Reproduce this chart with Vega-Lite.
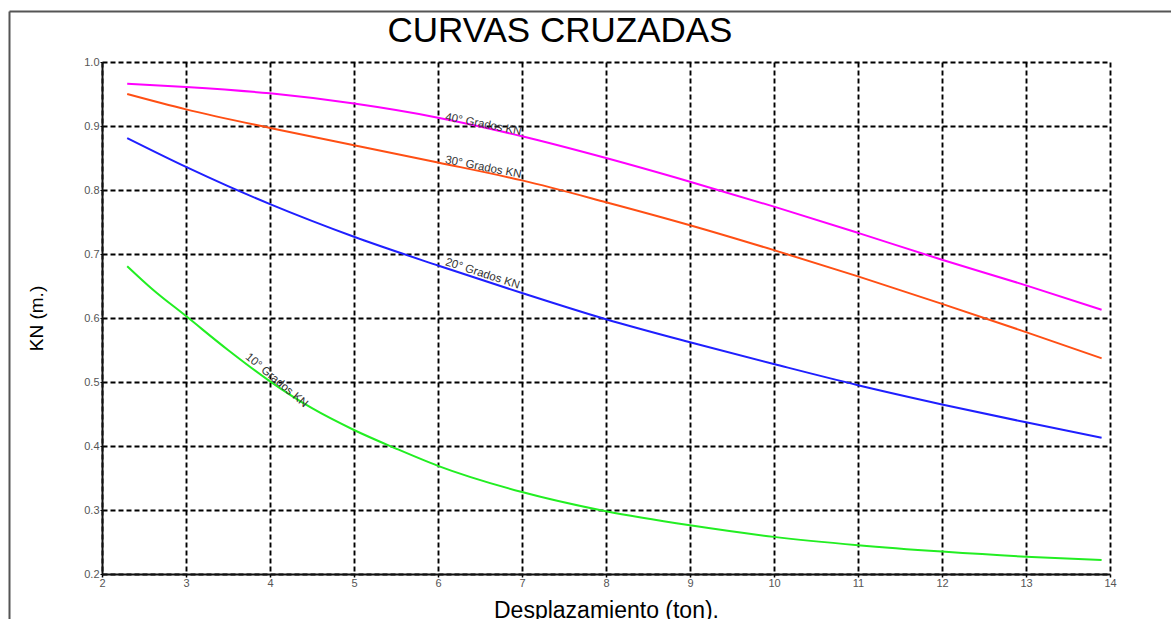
{
  "$schema": "https://vega.github.io/schema/vega-lite/v6.json",
  "width": 1008,
  "height": 512,
  "autosize": {"type": "none"},
  "padding": {"left": 102, "top": 62, "right": 61, "bottom": 45},
  "background": "white",
  "config": {
    "view": {"stroke": null},
    "font": "Liberation Sans"
  },
  "title": {
    "text": "CURVAS CRUZADAS",
    "font": "Liberation Sans",
    "fontSize": 35,
    "fontWeight": "normal",
    "color": "black",
    "baseline": "alphabetic",
    "anchor": "middle",
    "dx": -46,
    "offset": -66
  },
  "datasets": {
    "curvas": [
      {"curva": "40°", "x": 2.3, "kn": 0.966},
      {"curva": "40°", "x": 3, "kn": 0.961},
      {"curva": "40°", "x": 4, "kn": 0.951},
      {"curva": "40°", "x": 5, "kn": 0.935},
      {"curva": "40°", "x": 6, "kn": 0.913},
      {"curva": "40°", "x": 7, "kn": 0.884},
      {"curva": "40°", "x": 8, "kn": 0.85},
      {"curva": "40°", "x": 9, "kn": 0.813},
      {"curva": "40°", "x": 10, "kn": 0.774},
      {"curva": "40°", "x": 11, "kn": 0.733},
      {"curva": "40°", "x": 12, "kn": 0.691},
      {"curva": "40°", "x": 13, "kn": 0.651},
      {"curva": "40°", "x": 13.9, "kn": 0.613},
      {"curva": "30°", "x": 2.3, "kn": 0.95},
      {"curva": "30°", "x": 3, "kn": 0.926},
      {"curva": "30°", "x": 4, "kn": 0.897},
      {"curva": "30°", "x": 5, "kn": 0.87},
      {"curva": "30°", "x": 6, "kn": 0.843},
      {"curva": "30°", "x": 7, "kn": 0.815},
      {"curva": "30°", "x": 8, "kn": 0.781},
      {"curva": "30°", "x": 9, "kn": 0.745},
      {"curva": "30°", "x": 10, "kn": 0.706},
      {"curva": "30°", "x": 11, "kn": 0.665},
      {"curva": "30°", "x": 12, "kn": 0.622},
      {"curva": "30°", "x": 13, "kn": 0.578},
      {"curva": "30°", "x": 13.9, "kn": 0.537},
      {"curva": "20°", "x": 2.3, "kn": 0.881},
      {"curva": "20°", "x": 3, "kn": 0.836},
      {"curva": "20°", "x": 3.5, "kn": 0.806},
      {"curva": "20°", "x": 4, "kn": 0.778},
      {"curva": "20°", "x": 5, "kn": 0.727},
      {"curva": "20°", "x": 6, "kn": 0.682},
      {"curva": "20°", "x": 7, "kn": 0.639},
      {"curva": "20°", "x": 8, "kn": 0.598},
      {"curva": "20°", "x": 9, "kn": 0.562},
      {"curva": "20°", "x": 10, "kn": 0.528},
      {"curva": "20°", "x": 11, "kn": 0.495},
      {"curva": "20°", "x": 12, "kn": 0.465},
      {"curva": "20°", "x": 13, "kn": 0.437},
      {"curva": "20°", "x": 13.9, "kn": 0.413},
      {"curva": "10°", "x": 2.3, "kn": 0.681},
      {"curva": "10°", "x": 2.6, "kn": 0.645},
      {"curva": "10°", "x": 3, "kn": 0.603},
      {"curva": "10°", "x": 3.5, "kn": 0.55},
      {"curva": "10°", "x": 4, "kn": 0.501},
      {"curva": "10°", "x": 4.5, "kn": 0.459},
      {"curva": "10°", "x": 5, "kn": 0.425},
      {"curva": "10°", "x": 5.5, "kn": 0.396},
      {"curva": "10°", "x": 6, "kn": 0.369},
      {"curva": "10°", "x": 7, "kn": 0.328},
      {"curva": "10°", "x": 8, "kn": 0.298},
      {"curva": "10°", "x": 9, "kn": 0.276},
      {"curva": "10°", "x": 10, "kn": 0.258},
      {"curva": "10°", "x": 11, "kn": 0.245},
      {"curva": "10°", "x": 12, "kn": 0.235},
      {"curva": "10°", "x": 13, "kn": 0.227},
      {"curva": "10°", "x": 13.9, "kn": 0.222}
    ],
    "etiquetas": [
      {"curva": "40°", "texto": "40° Grados KN", "x": 6.08, "kn": 0.909},
      {"curva": "30°", "texto": "30° Grados KN", "x": 6.08, "kn": 0.842},
      {"curva": "20°", "texto": "20° Grados KN", "x": 6.08, "kn": 0.683},
      {"curva": "10°", "texto": "10° Grados KN", "x": 3.7, "kn": 0.5375}
    ]
  },
  "layer": [
    {
      "data": {"name": "curvas"},
      "mark": {"type": "point", "opacity": 0},
      "encoding": {
        "x": {
          "field": "x",
          "type": "quantitative",
          "scale": {"domain": [2, 14], "nice": false, "zero": false, "range": [-93, 1080]},
          "axis": {
            "orient": "top",
            "offset": 51,
            "domain": true,
            "domainColor": "#555555",
            "domainWidth": 2,
            "ticks": false,
            "labels": false,
            "grid": false,
            "title": null
          }
        },
        "y": {
          "field": "kn",
          "type": "quantitative",
          "scale": {"domain": [0.2, 1.0], "nice": false, "zero": false, "range": [600, -51]},
          "axis": {
            "orient": "left",
            "offset": 93,
            "domain": true,
            "domainColor": "#555555",
            "domainWidth": 2,
            "ticks": false,
            "labels": false,
            "grid": false,
            "title": null
          }
        }
      }
    },
    {
      "layer": [
        {
          "data": {"name": "curvas"},
          "mark": {"type": "line", "interpolate": "monotone", "strokeWidth": 2},
          "encoding": {
            "x": {
              "field": "x",
              "type": "quantitative",
              "scale": {"domain": [2, 14], "nice": false, "zero": false},
              "axis": {
                "orient": "bottom",
                "values": [2, 3, 4, 5, 6, 7, 8, 9, 10, 11, 12, 13, 14],
                "format": "d",
                "title": "Desplazamiento (ton).",
                "titleFont": "Liberation Sans",
                "titleFontSize": 23,
                "titleFontWeight": "normal",
                "titleColor": "black",
                "titlePadding": 11,
                "labelFont": "Liberation Sans",
                "labelFontSize": 11,
                "labelColor": "#555555",
                "labelPadding": 0,
                "labelFlush": false,
                "tickSize": 3,
                "tickColor": "black",
                "tickWidth": 1.5,
                "domainColor": "#111111",
                "domainWidth": 2,
                "grid": true,
                "gridColor": "black",
                "gridOpacity": 1,
                "gridDash": [5, 3],
                "gridWidth": 1.9
              }
            },
            "y": {
              "field": "kn",
              "type": "quantitative",
              "scale": {"domain": [0.2, 1.0], "nice": false, "zero": false},
              "axis": {
                "orient": "left",
                "values": [0.2, 0.3, 0.4, 0.5, 0.6, 0.7, 0.8, 0.9, 1.0],
                "format": ".1f",
                "title": "KN (m.)",
                "titleFont": "Liberation Sans",
                "titleFontSize": 19,
                "titleFontWeight": "normal",
                "titleColor": "black",
                "titlePadding": 37,
                "labelFont": "Liberation Sans",
                "labelFontSize": 11,
                "labelColor": "#555555",
                "labelPadding": 1,
                "labelFlush": false,
                "tickSize": 2,
                "tickColor": "black",
                "domainColor": "#111111",
                "domainWidth": 2,
                "grid": true,
                "gridColor": "black",
                "gridOpacity": 1,
                "gridDash": [5, 3],
                "gridWidth": 1.9
              }
            },
            "color": {
              "field": "curva",
              "type": "nominal",
              "scale": {
                "domain": ["40°", "30°", "20°", "10°"],
                "range": ["#ff00ff", "#ff4f14", "#1f1fff", "#22ee22"]
              },
              "legend": null
            },
            "detail": {"field": "curva"},
            "order": {"field": "x", "type": "quantitative"}
          }
        },
        {
          "data": {"name": "etiquetas"},
          "transform": [{"filter": "datum.curva === '40°' || datum.curva === '30°'"}],
          "mark": {"type": "text", "align": "left", "baseline": "alphabetic", "angle": 11, "fontSize": 11.5, "font": "Liberation Sans", "color": "#333333"},
          "encoding": {
            "x": {"field": "x", "type": "quantitative"},
            "y": {"field": "kn", "type": "quantitative"},
            "text": {"field": "texto"}
          }
        },
        {
          "data": {"name": "etiquetas"},
          "transform": [{"filter": "datum.curva === '20°'"}],
          "mark": {"type": "text", "align": "left", "baseline": "alphabetic", "angle": 18, "fontSize": 11.5, "font": "Liberation Sans", "color": "#333333"},
          "encoding": {
            "x": {"field": "x", "type": "quantitative"},
            "y": {"field": "kn", "type": "quantitative"},
            "text": {"field": "texto"}
          }
        },
        {
          "data": {"name": "etiquetas"},
          "transform": [{"filter": "datum.curva === '10°'"}],
          "mark": {"type": "text", "align": "left", "baseline": "alphabetic", "angle": 40, "fontSize": 11.5, "font": "Liberation Sans", "color": "#333333"},
          "encoding": {
            "x": {"field": "x", "type": "quantitative"},
            "y": {"field": "kn", "type": "quantitative"},
            "text": {"field": "texto"}
          }
        }
      ]
    }
  ],
  "resolve": {
    "scale": {"x": "independent", "y": "independent"},
    "axis": {"x": "independent", "y": "independent"}
  }
}
